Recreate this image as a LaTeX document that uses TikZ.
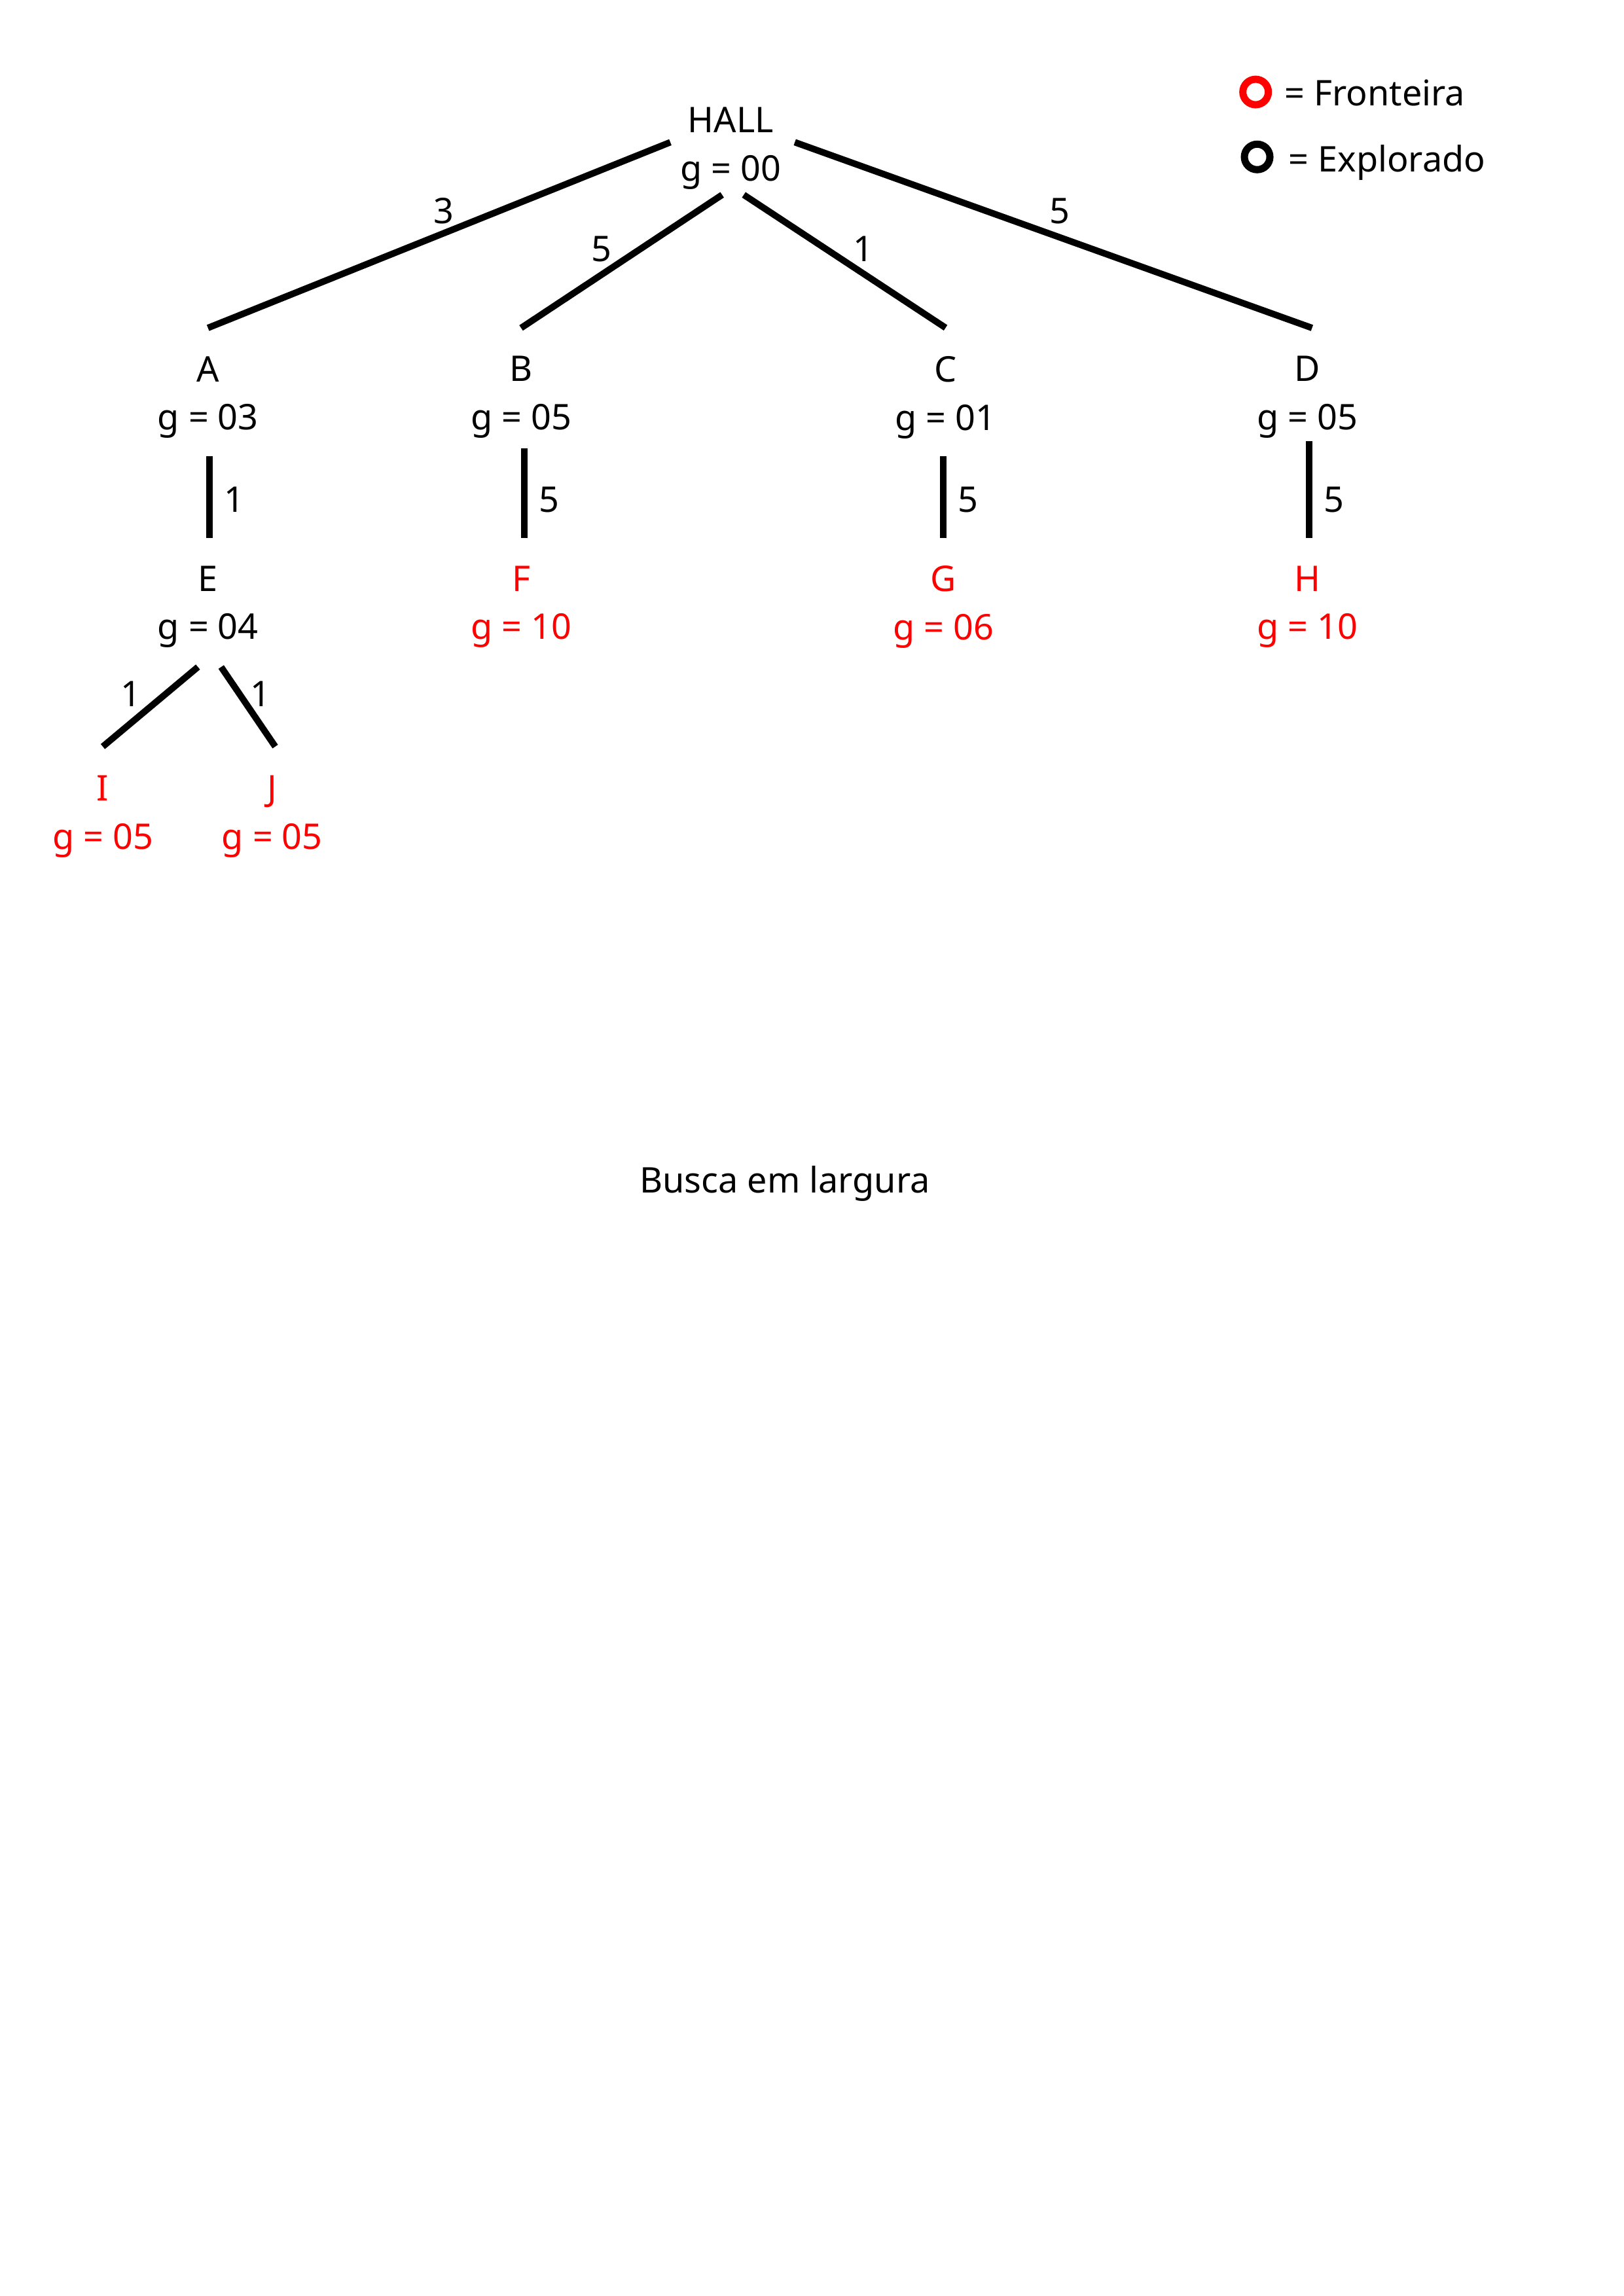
\documentclass[tikz,border=0pt]{standalone}
\usepackage{fontspec}
\setmainfont{Noto Sans}
\usepackage{tikz}
\usetikzlibrary{positioning}
\definecolor{frontcolor}{rgb}{1,0,0}

\begin{document}
\begin{tikzpicture}[
    every node/.style={font=\fontsize{13pt}{17.8pt}\selectfont, inner sep=0pt},
    st/.style={align=center},
    fr/.style={st, text=frontcolor},
    ed/.style={-, line width=2.4pt},
    wt/.style={},
    lg/.style={circle, line width=0.093cm, minimum size=0.33cm, inner sep=0pt}
  ]
    \useasboundingbox (0,0) rectangle (21,-29.7);
    % tree
    \node[st] (hall) at (9.45,-1.92) {HALL\\g = 00};
    \node[st] (a) at (2.69,-5.14) {A\\g = 03};
    \node[st] (b) at (6.74,-5.14) {B\\g = 05};
    \node[st] (c) at (12.23,-5.14) {C\\g = 01};
    \node[st] (d) at (16.91,-5.14) {D\\g = 05};
    \node[st] (e) at (2.69,-7.85) {E\\g = 04};
    \node[fr] (f) at (6.74,-7.85) {F\\g = 10};
    \node[fr] (g) at (12.20,-7.85) {G\\g = 06};
    \node[fr] (h) at (16.91,-7.85) {H\\g = 10};
    \node[fr] (i) at (1.33,-10.56) {I\\g = 05};
    \node[fr] (j) at (3.52,-10.56) {J\\g = 05};
    \draw[ed] ([shift={(-0.78,0.08)}]hall.center) -- ([yshift=3.6mm]a.north);
    \draw[ed] ([shift={(-0.11,-0.60)}]hall.center) -- ([yshift=3.6mm]b.north);
    \draw[ed] ([shift={(0.17,-0.60)}]hall.center) -- ([yshift=3.6mm]c.north);
    \draw[ed] ([shift={(0.83,0.08)}]hall.center) -- ([shift={(0.06,0.36)}]d.north);
    \draw[ed] ([shift={(0.02,-0.22)}]a.south) -- ([shift={(0.02,0.35)}]e.north);
    \draw[ed] ([shift={(0.04,-0.12)}]b.south) -- ([shift={(0.04,0.35)}]f.north);
    \draw[ed] ([shift={(-0.03,-0.22)}]c.south) -- ([yshift=3.5mm]g.north);
    \draw[ed] ([shift={(0.02,-0.03)}]d.south) -- ([shift={(0.02,0.35)}]h.north);
    \draw[ed] ([shift={(-0.13,-0.24)}]e.south) -- ([yshift=3.65mm]i.north);
    \draw[ed] ([shift={(0.17,-0.24)}]e.south) -- ([shift={(0.04,0.365)}]j.north);
    % weights
    \node[wt] (wa) at (5.74,-2.73) {3};
    \node[wt] (wb) at (7.78,-3.22) {5};
    \node[wt] (wc) at (11.17,-3.22) {1};
    \node[wt] (wd) at (13.71,-2.73) {5};
    \node[wt] (we) at (3.03,-6.46) {1};
    \node[wt] (wf) at (7.10,-6.46) {5};
    \node[wt] (wg) at (12.52,-6.46) {5};
    \node[wt] (wh) at (17.25,-6.46) {5};
    \node[wt] (wi) at (1.69,-8.98) {1};
    \node[wt] (wj) at (3.37,-8.98) {1};
    % legend
    \node[lg, draw=frontcolor] (lfr) at (16.24,-1.19) {};
    \node[anchor=base west] (tfr) at (16.61,-1.37) {= Fronteira};
    \node[lg, draw=black] (lex) at (16.26,-2.03) {};
    \node[anchor=base west] (tex) at (16.66,-2.22) {= Explorado};
    \node[anchor=base] (title) at (10.15,-15.43) {Busca em largura};
  \end{tikzpicture}
\end{document}
